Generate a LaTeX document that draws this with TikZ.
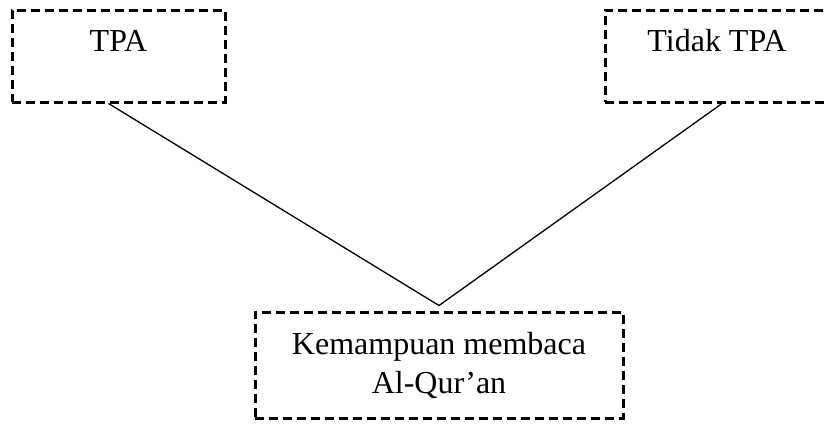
\documentclass[tikz,border=0pt]{standalone}
\usepackage{fontspec}
\setmainfont{Liberation Serif}
\usetikzlibrary{positioning}
\tikzset{%
	dashbox/.style = {draw, rectangle, line width=3pt, dash pattern=on 9pt off 5pt, inner sep=0pt, text centered, font=\fontsize{32}{39}\selectfont}, % dashed box
	link/.style    = {line width=1.3pt}, % plain line
}

\begin{document}
\begin{tikzpicture}[x=1pt,y=-1pt]
	\useasboundingbox (0,0) rectangle (824,423);
	\node [dashbox, minimum width=213pt, text height=41pt, text depth=51pt] (tpa) at (118.5,56) {TPA};
	\node [dashbox, minimum width=224pt, text height=41pt, text depth=51pt] (tidak) at (717,56) {Tidak TPA};
	\node [dashbox, align=center, minimum width=368pt, minimum height=106pt] (baca) at (439,365) {Kemampuan membaca\\Al-Qur’an};
	\draw [link] ([xshift=-10pt]tpa.south) -- ([yshift=5pt]baca.north);
	\draw [link] ([xshift=5pt]tidak.south) -- ([yshift=5pt]baca.north);
\end{tikzpicture}
\end{document}
